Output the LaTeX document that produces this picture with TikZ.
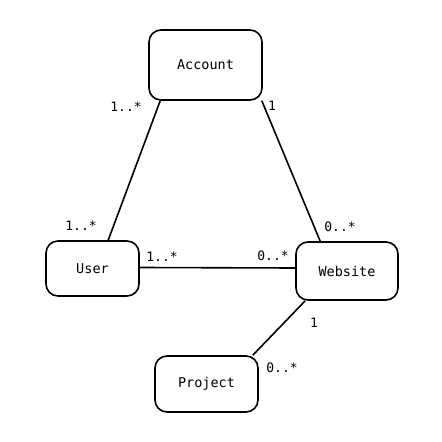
\documentclass[tikz,border=0pt]{standalone}
\usepackage{fontspec}
\setmonofont{DejaVu Sans Mono}
\begin{document}
\begin{tikzpicture}[x=1bp,y=-1bp,
  entity/.style={draw,line width=1.6bp,rounded corners=12bp,inner sep=0pt,font=\ttfamily\fontsize{13.5bp}{15bp}\selectfont},
  link/.style={line width=1.6bp},
  mult/.style={font=\ttfamily\fontsize{13bp}{15bp}\selectfont,inner sep=0pt}]
\useasboundingbox (0,0) rectangle (442,442);
\node[entity,minimum width=113bp,minimum height=70bp] (acc) at (205.5,65) {Account};
\node[entity,minimum width=93bp,minimum height=55bp] (usr) at (92.5,268.5) {User};
\node[entity,minimum width=102bp,minimum height=58bp] (web) at (347,271) {Website};
\node[entity,minimum width=103bp,minimum height=56bp] (prj) at (206.5,384) {Project};
\draw[link] ([xshift=12bp]acc.south west) -- ([xshift=63bp]usr.north west);
\draw[link] ([xshift=-1bp]acc.south east) -- ([xshift=25bp]web.north west);
\draw[link] ([yshift=1bp]usr.east) -- ([yshift=3bp]web.west);
\draw[link] ([xshift=10bp]web.south west) -- ([xshift=-6bp]prj.north east);
\node[mult] (m1) at (126,107) {1..*};
\node[mult] (m2) at (272,106) {1};
\node[mult] (m3) at (81,226) {1..*};
\node[mult] (m4) at (340,227) {0..*};
\node[mult] (m5) at (162,257) {1..*};
\node[mult] (m6) at (273,256) {0..*};
\node[mult] (m7) at (314,323) {1};
\node[mult] (m8) at (282,368) {0..*};
\end{tikzpicture}
\end{document}
